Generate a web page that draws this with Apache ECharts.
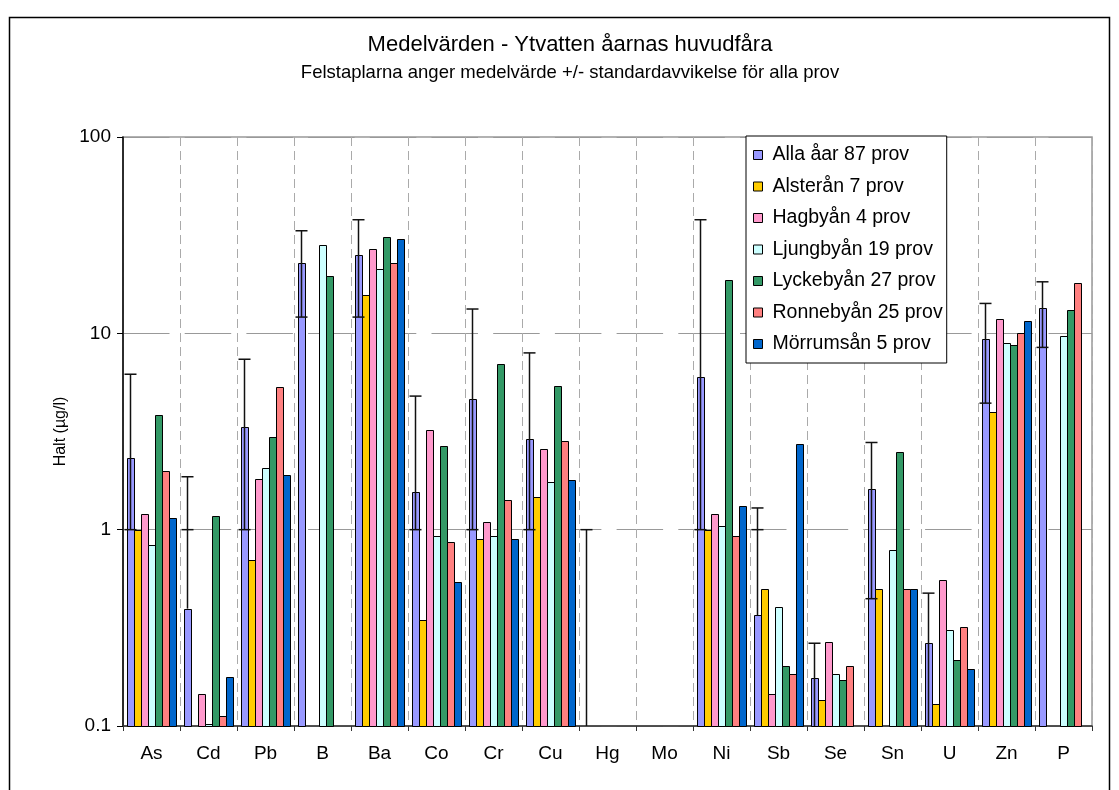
<!DOCTYPE html>
<html>
<head>
<meta charset="utf-8">
<script src="https://cdn.jsdelivr.net/npm/echarts@6/dist/echarts.min.js"></script>
<style>
html,body{margin:0;padding:0;background:#fff;}
#chart{width:1119px;height:790px;}
</style>
</head>
<body>
<div id="chart"></div>
<script>
// ---- data ----
var categories = ['As','Cd','Pb','B','Ba','Co','Cr','Cu','Hg','Mo','Ni','Sb','Se','Sn','U','Zn','P'];
var seriesNames = ['Alla åar 87 prov','Alsterån 7 prov','Hagbyån 4 prov','Ljungbyån 19 prov','Lyckebyån 27 prov','Ronnebyån 25 prov','Mörrumsån 5 prov'];
var alla      = [2.31, 0.396, 3.32, 22.7, 25.0, 1.55, 4.62, 2.89, null, null, 5.96, 0.366, 0.175, 1.62, 0.264, 9.4, 13.4];
var alsteran  = [1.0, null, 0.70, null, 15.6, 0.348, 0.899, 1.46, null, null, 1.0, 0.50, 0.136, 0.50, 0.13, 3.96, null];
var hagbyan   = [1.2, 0.146, 1.82, null, 26.9, 3.20, 1.09, 2.57, null, null, 1.20, 0.146, 0.269, null, 0.557, 11.8, null];
var ljungbyan = [0.834, 0.102, 2.07, 28.3, 21.2, 0.929, 0.929, 1.75, null, null, 1.04, 0.402, 0.184, 0.792, 0.307, 8.9, 9.64];
var lyckebyan = [3.83, 1.18, 2.98, 19.7, 31.0, 2.68, 6.98, 5.41, null, null, 18.6, 0.202, 0.172, 2.49, 0.217, 8.7, 13.2];
var ronnebyan = [2.0, 0.112, 5.31, null, 22.7, 0.866, 1.41, 2.82, null, null, 0.929, 0.184, 0.202, 0.50, 0.319, 10.0, 18.0];
var morrumsan = [1.14, 0.177, 1.89, null, 30.1, 0.539, 0.899, 1.79, null, null, 1.32, 2.72, null, 0.50, 0.195, 11.6, null];
// error bars of "Alla åar" (upper / lower whisker ends as drawn)
var errHigh = [6.19, 1.86, 7.38, 33.3, 37.9, 4.79, 13.3, 7.95, 1.0, null, 37.9, 1.29, 0.264, 2.78, 0.475, 14.2, 18.3];
var errLow  = [1, 1, 1, 12.1, 12.1, 1, 1, 1, null, null, 1, 1, 0.086, 0.445, 0.053, 4.41, 8.48];
var yTicks = [0.1, 1, 10, 100];
var titleLine1 = 'Medelvärden - Ytvatten åarnas huvudfåra';
var titleLine2 = 'Felstaplarna anger medelvärde +/- standardavvikelse för alla prov';
var yAxisName = 'Halt (µg/l)';

var colors = ['#9999FF','#FFCC00','#FF99CC','#CCFFFF','#339966','#FF8080','#0066CC'];
var seriesData = [alla, alsteran, hagbyan, ljungbyan, lyckebyan, ronnebyan, morrumsan];

var Y_MIN = yTicks[0], Y_MAX = yTicks[yTicks.length - 1];
var CAT_GAP = 0.135;
var NB = seriesData.length;
var FONT = 'Liberation Sans, Arial, sans-serif';

function bandGeom(api, idx) {
  var c0 = api.coord([idx, 1]);
  var other = idx + 1 < categories.length ? idx + 1 : idx - 1;
  var c1 = api.coord([other, 1]);
  var bandW = Math.abs(c1[0] - c0[0]);
  var used = bandW * (1 - CAT_GAP);
  return { cx: c0[0], used: used, barW: used / NB };
}

var series = seriesData.map(function (d, k) {
  var data = [];
  d.forEach(function (v, i) { if (v != null) data.push([i, v]); });
  return {
    name: seriesNames[k],
    type: 'custom',
    data: data,
    itemStyle: { color: colors[k] },
    encode: { x: 0, y: 1 },
    z: 2,
    silent: true,
    renderItem: function (params, api) {
      var idx = api.value(0), v = api.value(1);
      var g = bandGeom(api, idx);
      var x0 = g.cx - g.used / 2 + g.barW * k;
      var yTop = api.coord([idx, Math.min(v, Y_MAX)])[1];
      var yBot = api.coord([idx, Y_MIN])[1];
      return {
        type: 'rect',
        shape: { x: Math.round(x0) + 0.5, y: Math.round(yTop) + 0.5, width: Math.round(x0 + g.barW) - Math.round(x0), height: Math.round(yBot) - Math.round(yTop) },
        style: { fill: api.visual('color'), stroke: '#000', lineWidth: 1 }
      };
    }
  };
});

var errData = [];
for (var i = 0; i < categories.length; i++) {
  if (errHigh[i] == null) continue;
  errData.push([i, errLow[i] == null ? -1 : errLow[i], errHigh[i], alla[i] == null ? -1 : alla[i]]);
}

series.push({
  type: 'custom',
  name: 'err',
  data: errData,
  encode: { x: 0, y: 2 },
  z: 5,
  silent: true,
  renderItem: function (params, api) {
    var idx = api.value(0), lo = api.value(1), hi = api.value(2), mean = api.value(3);
    var g = bandGeom(api, idx);
    var x = Math.round(g.cx - g.used / 2 + g.barW / 2) + 0.5;
    var clamp = function (v) { return Math.max(Y_MIN, Math.min(Y_MAX, v)); };
    var cand = [];
    if (lo > 0) cand.push(lo);
    if (mean > 0) cand.push(mean);
    var lineLo = cand.length ? Math.min.apply(null, cand) : Y_MIN;
    var yHi = api.coord([idx, clamp(hi)])[1];
    var yLo = api.coord([idx, clamp(lineLo)])[1];
    var cap = 6;
    var st = { stroke: '#111', lineWidth: 1.5 };
    var children = [
      { type: 'line', shape: { x1: x, y1: yHi, x2: x, y2: yLo }, style: st },
      { type: 'line', shape: { x1: x - cap, y1: yHi, x2: x + cap, y2: yHi }, style: st }
    ];
    if (lo >= Y_MIN) {
      var yc = api.coord([idx, lo])[1];
      children.push({ type: 'line', shape: { x1: x - cap, y1: yc, x2: x + cap, y2: yc }, style: st });
    }
    return { type: 'group', children: children };
  }
});

var chart = echarts.init(document.getElementById('chart'), null, { renderer: 'canvas' });
chart.setOption({
  animation: false,
  backgroundColor: '#fff',
  textStyle: { fontFamily: FONT },
  legend: {
    data: seriesNames.map(function (n) { return { name: n, icon: 'rect' }; }),
    orient: 'vertical',
    left: 746,
    top: 136,
    itemWidth: 9,
    itemHeight: 9,
    itemGap: 11.5,
    padding: [9, 4, 9, 7],
    backgroundColor: '#fff',
    borderColor: '#000',
    borderWidth: 1,
    borderRadius: 0,
    itemStyle: { borderColor: '#000', borderWidth: 1 },
    textStyle: { fontFamily: FONT, fontSize: 19.5, color: '#000', lineHeight: 20, padding: [0, 0, 0, 5] },
    selectedMode: false,
    z: 10
  },
  grid: {
    left: 123, right: 27, top: 137, bottom: 64,
    show: true, borderColor: '#999', borderWidth: 1.5, backgroundColor: 'transparent'
  },
  xAxis: {
    type: 'category',
    data: categories,
    axisLine: { lineStyle: { color: '#333', width: 1.5 } },
    axisTick: { show: true, length: 5, lineStyle: { color: '#333' } },
    axisLabel: { fontFamily: FONT, fontSize: 19, color: '#000', margin: 18 },
    splitLine: { show: true, lineStyle: { color: '#aaa', type: [9, 5], width: 1 } }
  },
  yAxis: {
    type: 'log',
    logBase: 10,
    min: Y_MIN,
    max: Y_MAX,
    name: yAxisName,
    nameLocation: 'middle',
    nameGap: 54,
    nameRotate: 90,
    nameTextStyle: { fontFamily: FONT, fontSize: 16, color: '#000' },
    axisLine: { show: true, lineStyle: { color: '#000', width: 1.5 } },
    axisTick: { show: true, length: 6, lineStyle: { color: '#000' } },
    axisLabel: { fontFamily: FONT, fontSize: 19, color: '#000', margin: 12,
      formatter: function (v) { return String(+(+v).toPrecision(3)); } },
    splitLine: { show: true, lineStyle: { color: '#999', type: [46.5, 15.2], width: 1 } },
    minorTick: { show: false }
  },
  graphic: [
    { type: 'rect', silent: true, z: -1,
      shape: { x: 9.5, y: 17.5, width: 1100, height: 800 },
      style: { fill: 'none', stroke: '#000', lineWidth: 1.5 } },
    { type: 'text', silent: true, x: 570, y: 45,
      style: { text: titleLine1, fontFamily: FONT, fontSize: 22, fill: '#000', align: 'center', verticalAlign: 'middle' } },
    { type: 'text', silent: true, x: 570, y: 73,
      style: { text: titleLine2, fontFamily: FONT, fontSize: 18.5, fill: '#000', align: 'center', verticalAlign: 'middle' } }
  ],
  series: series
});
</script>
</body>
</html>
